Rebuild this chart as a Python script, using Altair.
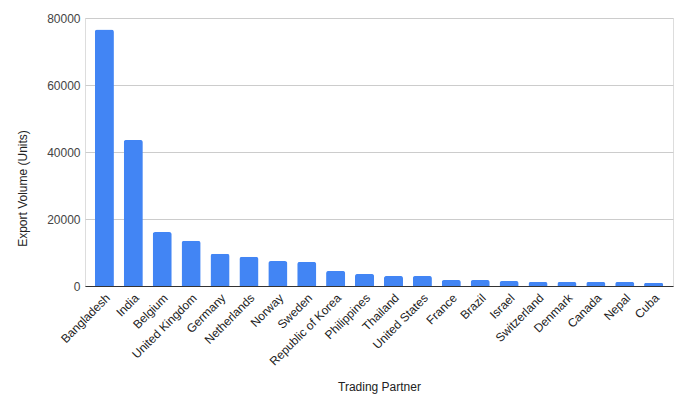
import altair as alt
import pandas as pd

partners = ["Bangladesh", "India", "Belgium", "United Kingdom", "Germany", "Netherlands",
            "Norway", "Sweden", "Republic of Korea", "Philippines", "Thailand", "United States",
            "France", "Brazil", "Israel", "Switzerland", "Denmark", "Canada", "Nepal", "Cuba"]
volumes = [76600, 43600, 16100, 13500, 9600, 8700, 7450, 7200, 4500, 3600, 3000, 3000,
           1800, 1800, 1500, 1200, 1200, 1200, 1200, 900]
y_ticks = [0, 20000, 40000, 60000, 80000]

df = pd.DataFrame({"partner": partners, "volume": volumes})

FONT = "Liberation Sans, Arial, sans-serif"

chart = alt.Chart(df).mark_bar(
    color="#4285F4", cornerRadiusTopLeft=2.5, cornerRadiusTopRight=2.5
).encode(
    x=alt.X("partner:N", sort=partners, title="Trading Partner",
            scale=alt.Scale(paddingInner=0.34, paddingOuter=0.34),
            axis=alt.Axis(labelAngle=-45, labelFontSize=12, labelColor="#222222",
                          labelFont=FONT, ticks=False, labelPadding=6,
                          domainColor="#333333", domainWidth=1,
                          titleFont=FONT, titleFontSize=12, titleFontWeight="normal",
                          titleColor="#222222", titleY=100, titleBaseline="middle")),
    y=alt.Y("volume:Q", title="Export Volume (Units)",
            scale=alt.Scale(domain=[0, 80000], nice=False),
            axis=alt.Axis(values=y_ticks, format="d", labelFontSize=12, labelColor="#444444",
                          labelFont=FONT, ticks=False, domain=False, labelPadding=5,
                          gridColor="#cccccc", gridWidth=1,
                          titleFont=FONT, titleFontSize=12, titleFontWeight="normal",
                          titleColor="#222222", titleX=-63, titleY=170,
                          titleAngle=270, titleAlign="center", titleBaseline="middle")),
).properties(
    width=588, height=268,
    autosize=alt.AutoSizeParams(type="none"),
    padding={"left": 77, "top": 10, "right": 9, "bottom": 113},
).configure_view(stroke=None).configure(background="white")

chart.save("out.html", embed_options={"renderer": "svg", "actions": False})
